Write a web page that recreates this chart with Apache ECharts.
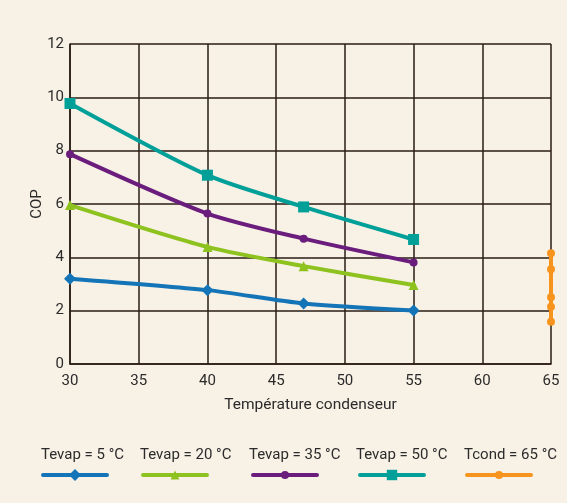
<!DOCTYPE html>
<html><head><meta charset="utf-8">
<script src="https://cdn.jsdelivr.net/npm/echarts@6/dist/echarts.min.js"></script>
<style>html,body{margin:0;padding:0;background:#F8F1E6;}#c{width:567px;height:503px;}</style>
</head><body><div id="c"></div>
<script>
const xTevap = [30, 40, 47, 55];
const tevap5 = [3.2, 2.77, 2.27, 2.01];
const tevap20 = [5.96, 4.39, 3.67, 2.96];
const tevap35 = [7.87, 5.64, 4.70, 3.81];
const tevap50 = [9.77, 7.08, 5.89, 4.67];
const tcondX = [65, 65, 65, 65, 65];
const tcond65 = [4.15, 3.55, 2.50, 2.15, 1.58];
const names = ['Tevap = 5 °C', 'Tevap = 20 °C', 'Tevap = 35 °C', 'Tevap = 50 °C', 'Tcond = 65 °C'];
const colors = ['#1374B7', '#8DC21F', '#6A1D7C', '#00A099', '#F7941D'];
const symbols = ['diamond', 'triangle', 'circle', 'rect', 'circle'];
const symSizes = [12, 10, 8, 11, 8];
const xTicks = [30, 35, 40, 45, 50, 55, 60, 65];
const yTicks = [0, 2, 4, 6, 8, 10, 12];

const ys = [tevap5, tevap20, tevap35, tevap50, tcond65];
const xs = [xTevap, xTevap, xTevap, xTevap, tcondX];

const series = ys.map((vals, i) => ({
  name: names[i], type: 'line', smooth: i < 4 ? 0.25 : false,
  data: vals.map((v, j) => [xs[i][j], v]),
  symbol: symbols[i], symbolSize: symSizes[i],
  lineStyle: { color: colors[i], width: 4, cap: 'round' },
  itemStyle: { color: colors[i] },
  z: 3
}));

const textLeft = [30, 129, 238, 345, 453];
const iconLeft = [36, 136, 246, 353, 460];
const iconH = [15, 11, 10, 13, 10];
const legends = [];
names.forEach((n, i) => {
  legends.push({ data: [n], left: textLeft[i], top: 443, itemWidth: 0, itemHeight: 0, selectedMode: false,
    textStyle: { fontFamily: 'Roboto', fontSize: 15, color: '#2b2b2b' } });
  legends.push({ data: [n], left: iconLeft[i], top: 470 - iconH[i] / 2, itemWidth: 64, itemHeight: iconH[i], selectedMode: false,
    lineStyle: { width: 4, cap: 'round' },
    formatter: () => '', textStyle: { fontSize: 1 } });
});

const chart = echarts.init(document.getElementById('c'), null, { renderer: 'canvas' });
chart.setOption({
  backgroundColor: '#F8F1E6',
  animation: false,
  grid: { left: 70, right: 16, top: 44, bottom: 139, containLabel: false },
  legend: legends,
  xAxis: {
    type: 'value', min: 30, max: 65, interval: 5,
    name: 'Température condenseur', nameLocation: 'middle', nameGap: 33, nameMoveOverlap: false,
    nameTextStyle: { fontFamily: 'Roboto', fontSize: 15.5, color: '#2b2b2b' },
    axisLine: { show: true, lineStyle: { color: '#2a1c16', width: 1.5 } },
    axisTick: { show: false },
    axisLabel: { fontFamily: 'Roboto', fontSize: 15, color: '#2b2b2b', margin: 10,
      formatter: v => xTicks.includes(v) ? String(v) : '' },
    splitLine: { show: true, lineStyle: { color: '#2a1c16', width: 1.5 } }
  },
  yAxis: {
    type: 'value', min: 0, max: 12, interval: 2,
    name: 'COP', nameLocation: 'middle', nameGap: 25, nameRotate: 90, nameMoveOverlap: false,
    nameTextStyle: { fontFamily: 'Roboto', fontSize: 15, color: '#2b2b2b' },
    axisLine: { show: true, lineStyle: { color: '#2a1c16', width: 1.5 } },
    axisTick: { show: false },
    axisLabel: { fontFamily: 'Roboto', fontSize: 15, color: '#2b2b2b', margin: 6,
      formatter: v => yTicks.includes(v) ? String(v) : '' },
    splitLine: { show: true, lineStyle: { color: '#2a1c16', width: 1.5 } }
  },
  series: series
});
</script></body></html>
